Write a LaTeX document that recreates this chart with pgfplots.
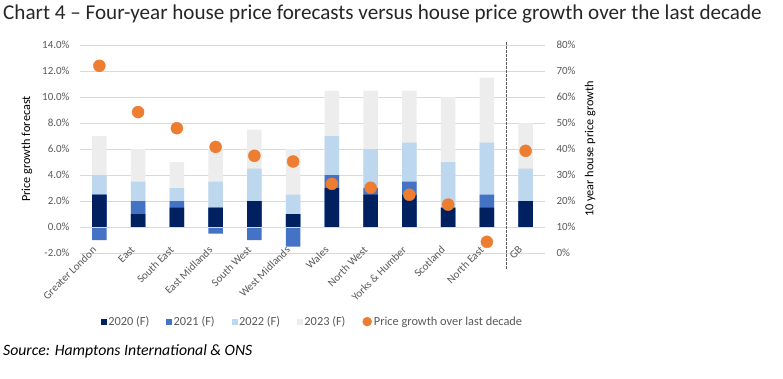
\documentclass[border=0pt]{standalone}
\usepackage{fontspec}
\setmainfont{Carlito}
\usepackage{pgfplots}
\pgfplotsset{compat=1.18}
\definecolor{cA}{HTML}{002060}
\definecolor{cB}{HTML}{4472C4}
\definecolor{cC}{HTML}{BDD7EE}
\definecolor{cD}{HTML}{EDEDED}
\definecolor{orng}{HTML}{ED7D31}
\definecolor{gridg}{HTML}{D9D9D9}
\definecolor{txtg}{HTML}{595959}
\begin{document}
\begin{tikzpicture}
\path[use as bounding box] (0bp,0bp) rectangle (783bp,-379bp);
\node[anchor=north west, inner sep=0pt, font=\fontsize{21.2}{24}\selectfont, text=black!85] at (3bp,-5bp) {Chart 4 – Four-year house price forecasts versus house price growth over the last decade};
\node[anchor=north west, inner sep=0pt, font=\fontsize{15.8}{18}\selectfont\itshape] at (3bp,-344bp) {Source: Hamptons International \& ONS};
\begin{axis}[
  at={(80bp,-253bp)}, anchor=south west, width=465bp, height=208bp, scale only axis,
  xmin=-0.5, xmax=11.5, ymin=-2, ymax=14,
  ybar, bar shift=0pt, bar width=14.5bp,
  clip=false,
  axis line style={draw=none},
  xtick={0,...,11},
  xticklabels={Greater London,East,South East,East Midlands,South West,West Midlands,Wales,North West,Yorks \& Humber,Scotland,North East,GB},
  xticklabel style={rotate=45, anchor=north east, inner sep=0pt, yshift=14bp, xshift=3bp, font=\fontsize{11}{13}\selectfont, text=txtg},
  xtick style={draw=none},
  ytick={-2,0,...,14}, ytick style={draw=none},
  yticklabel={\pgfmathprintnumber[assume math mode=true,fixed,fixed zerofill,precision=1]{\tick}\%},
  yticklabel style={font=\fontsize{11}{13}\selectfont, text=txtg, xshift=-7bp},
  ymajorgrids, grid style={color=gridg, line width=0.8bp},
  ylabel={Price growth forecast},
  every axis y label/.style={at={(axis description cs:-0.114,0.5)}, anchor=center, rotate=90, font=\fontsize{12.3}{14}\selectfont},
]
% cumulative tops of each stack, drawn from the tallest down
\addplot[fill=cD, draw=none] coordinates {(0,7) (1,6) (2,5) (3,6) (4,7.5) (5,6) (6,10.5) (7,10.5) (8,10.5) (9,10) (10,11.5) (11,8)};
\addplot[fill=cC, draw=none] coordinates {(0,4) (1,3.5) (2,3) (3,3.5) (4,4.5) (5,2.5) (6,7) (7,6) (8,6.5) (9,5) (10,6.5) (11,4.5)};
\addplot[fill=cB, draw=none] coordinates {(0,2.5) (1,2) (2,2) (3,1.5) (4,2) (5,1) (6,4) (7,3) (8,3.5) (9,1.5) (10,2.5) (11,2)};
\addplot[fill=cA, draw=none] coordinates {(0,2.5) (1,1) (2,1.5) (3,1.5) (4,2) (5,1) (6,3) (7,2.5) (8,2.5) (9,1.5) (10,1.5) (11,2)};
% 2021 negative forecasts
\addplot[fill=cB, draw=none] coordinates {(0,-1) (3,-0.5) (4,-1) (5,-1.5)};
\draw[gridg, line width=0.8bp] (axis cs:-0.5,0) -- (axis cs:11.5,0);
\draw[txtg, line width=1.1bp, dash pattern=on 2.5bp off 1.5bp] (axis cs:10.5,14.2) -- (axis cs:10.5,-3.3);
\end{axis}
\begin{axis}[
  at={(80bp,-253bp)}, anchor=south west, width=465bp, height=208bp, scale only axis,
  xmin=-0.5, xmax=11.5, ymin=0, ymax=80,
  axis x line=none, axis y line*=right,
  y axis line style={draw=none},
  ytick={0,10,...,80}, ytick style={draw=none},
  yticklabel={\pgfmathprintnumber[assume math mode=true]{\tick}\%},
  yticklabel style={font=\fontsize{11}{13}\selectfont, text=txtg, xshift=8bp},
  ylabel={10 year house price growth},
  every axis y label/.style={at={(axis description cs:1.097,0.5)}, anchor=center, rotate=90, font=\fontsize{12.3}{14}\selectfont},
  legend columns=5,
  legend style={at={(axis description cs:0.5,-0.33)}, anchor=center, draw=none, fill=none,
    font=\fontsize{12.4}{14}\selectfont, text=txtg, inner sep=0pt,
    /tikz/every even column/.append style={column sep=15bp}},
]
\addlegendimage{legend image code/.code={\fill[cA] (0bp,-2.5bp) rectangle (5bp,2.5bp);}}
\addlegendentry{2020 (F)}
\addlegendimage{legend image code/.code={\fill[cB] (0bp,-2.5bp) rectangle (5bp,2.5bp);}}
\addlegendentry{2021 (F)}
\addlegendimage{legend image code/.code={\fill[cC] (0bp,-2.5bp) rectangle (5bp,2.5bp);}}
\addlegendentry{2022 (F)}
\addlegendimage{legend image code/.code={\fill[cD] (0bp,-2.5bp) rectangle (5bp,2.5bp);}}
\addlegendentry{2023 (F)}
\addlegendimage{legend image code/.code={\fill[orng] (3bp,0bp) circle (4.5bp);}}
\addlegendentry{Price growth over last decade}
\addplot[only marks, mark=*, mark size=6bp, color=orng, forget plot] coordinates {(0,72) (1,54.2) (2,48) (3,40.8) (4,37.4) (5,35.2) (6,26.6) (7,25.1) (8,22.4) (9,18.6) (10,4.3) (11,39.3)};
\end{axis}
\end{tikzpicture}
\end{document}
